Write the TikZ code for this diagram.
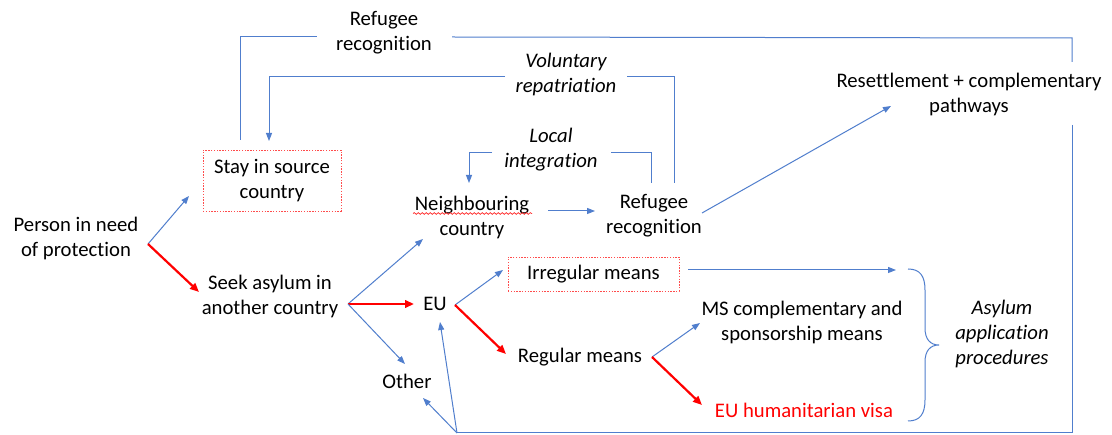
\documentclass[tikz,border=0pt]{standalone}
\usepackage{fontspec}
\setmainfont[Ligatures={NoCommon}]{Carlito}
\usetikzlibrary{arrows.meta,decorations.pathmorphing}
\definecolor{lb}{RGB}{80,126,205}
\definecolor{rd}{RGB}{255,0,0}
\begin{document}
\begin{tikzpicture}[x=1pt,y=-1pt,
  every node/.style={font=\fontsize{20.7}{25}\selectfont, inner sep=0pt, align=center},
  bl/.style={draw=lb, line width=1pt},
  bla/.style={bl, -{Triangle[length=8pt,width=6pt]}},
  rda/.style={draw=rd, line width=2.2pt, -{Triangle[length=9pt,width=7.5pt]}},
  dbox/.style={draw=rd!70, dash pattern=on 1.4pt off 1.4pt, line width=0.9pt},
  lbl/.style={font=\fontsize{20.7}{25}\selectfont\itshape}]
\useasboundingbox (0,0) rectangle (1112,435);
\fill[white] (0,0) rectangle (1112,435);

% nodes
\node (person) at (76,238.5) {Person in need\\of protection};
\node[dbox, minimum width=138pt, minimum height=61pt] (stay) at (272,180.5) {Stay in source\\country};
\node (seek) at (270,296) {Seek asylum in\\another country};
\node (neigh) at (472,217.5) {Neighbouring\\country};
\node (refmid) at (654,215.5) {Refugee\\recognition};
\node (eu) at (435,304) {EU};
\node (other) at (407,381) {Other};
\node[dbox, minimum width=171pt, minimum height=34pt] (irr) at (593.5,274) {Irregular means};
\node (regular) at (580,357) {Regular means};
\node (ms) at (802,322.5) {MS complementary and\\sponsorship means};
\node[text=rd] (visa) at (804,410) {EU humanitarian visa};
\node[lbl] (asylum) at (1002,334) {Asylum\\application\\procedures};
\node (resettle) at (969,94) {Resettlement + complementary\\pathways};
\node[lbl] (vol) at (566,74.5) {Voluntary\\repatriation};
\node[lbl] (local) at (551,149.5) {Local\\integration};
\node (reftop) at (384,32.5) {Refugee\\recognition};

% spell-check underline
\draw[rd!85, line width=0.7pt, decorate, decoration={snake, amplitude=0.9pt, segment length=4pt}] (413,213.5) -- (532,213.5);

% fork points
\coordinate (pfork) at (148,244);
\coordinate (sfork) at (348,304);
\coordinate (efork) at (455,305);
\coordinate (rfork) at (652,357);
\coordinate (bfork) at (457,433);

\draw[bla] (pfork) -- (189,196) coordinate (tstay);
\draw[rda] (pfork) -- (199,292) coordinate (tseek);

\draw[bla] (sfork) -- (423,239) coordinate (tneigh);
\draw[rda] (sfork) -- (414,304) coordinate (teu);
\draw[bla] (sfork) -- (405,364) coordinate (tother);

\draw[bla] (548,211) coordinate (nout) -- (595,211) coordinate (rin);
\draw[bla] (702,213) coordinate (rout) -- (891,106) coordinate (resin);

\draw[bla] (efork) -- (503,270) coordinate (tirr);
\draw[rda] (efork) -- (506,354) coordinate (treg);

\draw[bla] (rfork) -- (700,323) coordinate (tms);
\draw[rda] (rfork) -- (702,405) coordinate (tvisa);

\draw[bla] (688,270) coordinate (irrout) -- (896,270) coordinate (bracein);

% brace
\draw[bl] (908,269) .. controls (920,269) and (925,276) .. (925,290) -- (925,328)
  .. controls (925,339) and (930,345) .. (939,345)
  .. controls (930,345) and (925,351) .. (925,362) -- (925,400)
  .. controls (925,414) and (920,421) .. (908,421);

% local integration loop
\draw[bl] (651,183) -- (651,153) -- (611,153);
\draw[bla] (492,153) -- (469,153) -- (469,183);

% voluntary repatriation loop
\draw[bl] (674,183) -- (674,77) -- (627,77);
\draw[bla] (505,77) -- (269,77) -- (269,141);

% refugee recognition (top) loop
\draw[bl] (240,140) -- (240,37) -- (317,37);
\draw[bl] (452,37) -- (1072,38) -- (1072,62);
\draw[bl] (1072,125) -- (1072,433) -- (bfork);
\draw[bla] (bfork) -- (440,322);
\draw[bla] (bfork) -- (423,398);
\end{tikzpicture}
\end{document}
